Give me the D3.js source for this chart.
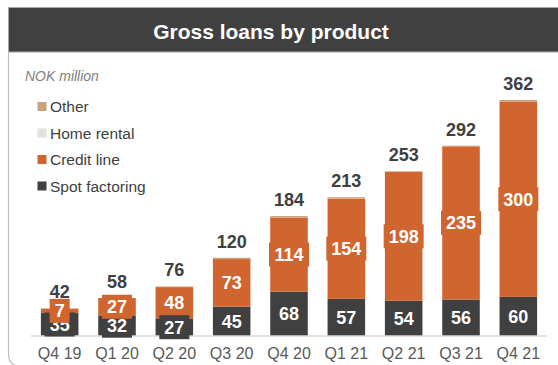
<!DOCTYPE html>
<html>
<head>
<meta charset="utf-8">
<script src="https://cdn.jsdelivr.net/npm/d3@7"></script>
<style>
  html, body { margin: 0; padding: 0; background: #ffffff; }
  svg { display: block; font-family: Arial, "Liberation Sans", sans-serif; }
</style>
</head>
<body>
<svg id="chart" width="558" height="365"></svg>
<script>
// Quarterly gross loans (NOK million), split by product
const quarters = ["Q4 19", "Q1 20", "Q2 20", "Q3 20", "Q4 20", "Q1 21", "Q2 21", "Q3 21", "Q4 21"];
const spotFactoring = [35.2, 31.6, 27, 45, 68, 57, 54, 56, 60];
const creditLine    = [6.8, 26.6, 48, 73, 114, 154, 198, 235, 300];
const homeRental    = [0, 0, 0, 0, 0.4, 0.4, 0.3, 0.3, 0.4];
const other         = [0.3, 0.2, 1, 2, 1.6, 1.6, 0.7, 0.7, 1.6];

const seriesNames  = ["Spot factoring", "Credit line", "Home rental", "Other"];
const seriesColors = ["#404040", "#d0652f", "#e4e2dc", "#c9a47a"];
const legendOrder  = ["Other", "Home rental", "Credit line", "Spot factoring"];

const rows = quarters.map((q, i) => ({
  quarter: q,
  "Spot factoring": spotFactoring[i],
  "Credit line": creditLine[i],
  "Home rental": homeRental[i],
  "Other": other[i]
}));
const totals = rows.map(r => seriesNames.reduce((s, k) => s + r[k], 0));

const svg = d3.select("#chart");
const fmt = d3.format(".0f");

// Frame and title banner
svg.append("path")
  .attr("d", "M8.5,52 L8.5,354 Q8.5,366 20,366")
  .attr("fill", "none").attr("stroke", "#bfbfbf").attr("stroke-width", 1.2);
svg.append("rect")
  .attr("x", 8.5).attr("y", 7.5).attr("width", 560).attr("height", 44.5)
  .attr("fill", "#404040").attr("stroke", "#a6a6a6").attr("stroke-width", 1);
svg.append("text")
  .attr("x", 271).attr("y", 38.5).attr("text-anchor", "middle")
  .attr("fill", "#ffffff").attr("font-weight", "bold").attr("font-size", 21)
  .text("Gross loans by product");

svg.append("text")
  .attr("x", 25).attr("y", 80.5)
  .attr("fill", "#7f7f7f").attr("font-style", "italic").attr("font-size", 14)
  .text("NOK million");

// Legend
const legend = svg.append("g");
legendOrder.forEach((name, i) => {
  const yc = 106.5 + i * 26.5;
  legend.append("rect")
    .attr("x", 37.5).attr("y", yc - 4.5).attr("width", 9).attr("height", 9)
    .attr("fill", seriesColors[seriesNames.indexOf(name)]);
  legend.append("text")
    .attr("x", 50).attr("y", yc + 5.5)
    .attr("fill", "#404040").attr("font-size", 15.5)
    .text(name);
});

// Scales
const x = d3.scaleBand().domain(quarters).range([31, 547])
  .paddingInner(0.345).paddingOuter(0.1725);
const y = d3.scaleLinear().domain([0, 362]).range([336, 100]);

const stacked = d3.stack().keys(seriesNames)(rows);

// Bars
svg.append("g").selectAll("g")
  .data(stacked)
  .join("g")
  .attr("fill", (d, i) => seriesColors[i])
  .selectAll("rect")
  .data(d => d)
  .join("rect")
  .attr("x", d => x(d.data.quarter))
  .attr("width", x.bandwidth())
  .attr("y", d => y(d[1]))
  .attr("height", d => Math.max(0, y(d[0]) - y(d[1])));

// Baseline axis (line only, labels below)
const axis = d3.axisBottom(x).tickSize(0).tickPadding(0);
const axisG = svg.append("g").attr("transform", "translate(0,336)").call(axis);
axisG.select(".domain").attr("stroke", "#d9d9d9").attr("stroke-width", 1.5)
  .attr("d", "M31,0H547");
axisG.selectAll(".tick text")
  .attr("y", 23).attr("dy", 0)
  .attr("fill", "#595959").attr("font-size", 16)
  .attr("font-family", "Arial, 'Liberation Sans', sans-serif");

// Segment labels with colour-matched boxes
function segmentLabels(layerIndex) {
  const layer = stacked[layerIndex];
  const g = svg.append("g");
  layer.forEach((d, i) => {
    const txt = fmt(d[1] - d[0]);
    const cx = x(d.data.quarter) + x.bandwidth() / 2;
    const cy = (y(d[0]) + y(d[1])) / 2;
    const w = txt.length * 10 + 10;
    g.append("rect")
      .attr("x", cx - w / 2).attr("y", cy - 12)
      .attr("width", w).attr("height", 24)
      .attr("fill", seriesColors[layerIndex]);
    g.append("text")
      .attr("x", cx).attr("y", cy + 6.5).attr("text-anchor", "middle")
      .attr("fill", "#ffffff").attr("font-weight", "bold").attr("font-size", 18)
      .text(txt);
  });
}
segmentLabels(0);
segmentLabels(1);

// Totals above bars
svg.append("g").selectAll("text")
  .data(rows)
  .join("text")
  .attr("x", d => x(d.quarter) + x.bandwidth() / 2)
  .attr("y", (d, i) => y(totals[i]) - 10)
  .attr("text-anchor", "middle")
  .attr("fill", "#404040").attr("font-weight", "bold").attr("font-size", 18)
  .text((d, i) => fmt(totals[i]));
</script>
</body>
</html>
